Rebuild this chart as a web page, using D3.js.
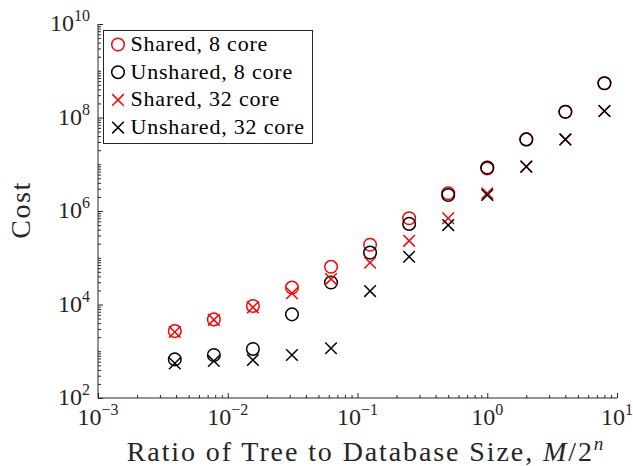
<!DOCTYPE html>
<html>
<head>
<meta charset="utf-8">
<script src="https://cdn.jsdelivr.net/npm/d3@7"></script>
<style>
  html, body { margin: 0; padding: 0; background: #fff; }
  svg { display: block; }
  text { font-family: "Liberation Serif", "Times New Roman", serif; }
</style>
</head>
<body>
<svg id="chart" width="633" height="466"></svg>
<script>
// Tree size as a fraction of the database size, M / 2^n
const ratio = [0.00390625, 0.0078125, 0.015625, 0.03125, 0.0625, 0.125, 0.25, 0.5, 1, 2, 4, 8];

// Cost for each configuration
const shared8    = [2700, 4800, 9300, 23000, 64000, 190000, 700000, 2.4e6, 8.1e6, 3.4e7, 1.33e8, 5.4e8];
const unshared8  = [670, 830, 1120, 6150, 29600, 129000, 530000, 2.2e6, 8.5e6, 3.4e7, 1.33e8, 5.4e8];
const shared32   = [2580, 4700, 8700, 17400, 35000, 78000, 230000, 700000, 2.4e6, 8.9e6, 3.4e7, 1.38e8];
const unshared32 = [550, 620, 650, 830, 1160, 19400, 105000, 500000, 2.2e6, 8.9e6, 3.4e7, 1.38e8];

const seriesNames   = ["Shared, 8 core", "Unshared, 8 core", "Shared, 32 core", "Unshared, 32 core"];
const seriesValues  = [shared8, unshared8, shared32, unshared32];
const seriesColors  = ["#ff0000", "#000000", "#ff0000", "#000000"];
const seriesMarkers = ["circle", "circle", "cross", "cross"];

// Axis tick decades
const xTickExps = [-3, -2, -1, 0, 1];
const yTickExps = [2, 4, 6, 8, 10];

const svg = d3.select("#chart");
const plotLeft = 98, plotRight = 617, plotTop = 24, plotBottom = 398;

const x = d3.scaleLog().domain([1e-3, 1e1]).range([plotLeft, plotRight]);
const y = d3.scaleLog().domain([1e2, 1e10]).range([plotBottom, plotTop]);

const axisColor = "#262626";

// Tick positions at every 1..9 x 10^k
function minorValues(lo, hi) {
  const out = [];
  for (let e = lo; e < hi; e++) {
    for (let m = 1; m <= 9; m++) out.push(m * Math.pow(10, e));
  }
  out.push(Math.pow(10, hi));
  return out;
}

const xAxis = d3.axisTop(x)
  .tickValues(minorValues(-3, 1))
  .tickSize(0).tickFormat("");
const yAxis = d3.axisRight(y)
  .tickValues(minorValues(2, 10))
  .tickSize(0).tickFormat("");

const gx = svg.append("g").attr("transform", `translate(0,${plotBottom})`).call(xAxis);
const gy = svg.append("g").attr("transform", `translate(${plotLeft},0)`).call(yAxis);
[gx, gy].forEach(g => g.select(".domain").remove());

const isMajorX = v => xTickExps.some(e => Math.abs(Math.log10(v) - e) < 1e-9);
const isMajorY = v => yTickExps.some(e => Math.abs(Math.log10(v) - e) < 1e-9);

// Ticks point into the plot area; labelled decades get longer ticks
gx.selectAll(".tick line")
  .attr("stroke", axisColor).attr("stroke-width", 1)
  .attr("y2", d => isMajorX(d) ? -5 : -3);
gy.selectAll(".tick line")
  .attr("stroke", axisColor).attr("stroke-width", 1)
  .attr("x2", d => isMajorY(d) ? 5 : 3);

// Axis lines (left and bottom only)
svg.append("line")
  .attr("x1", plotLeft).attr("x2", plotRight).attr("y1", plotBottom).attr("y2", plotBottom)
  .attr("stroke", axisColor).attr("stroke-width", 1);
svg.append("line")
  .attr("x1", plotLeft).attr("x2", plotLeft).attr("y1", plotTop).attr("y2", plotBottom)
  .attr("stroke", axisColor).attr("stroke-width", 1);

// Tick labels as 10 with a superscript exponent
function powerLabel(sel, exp) {
  sel.append("tspan").text("10");
  sel.append("tspan")
    .attr("dy", -10).attr("font-size", 16)
    .text(exp < 0 ? "\u2212" + Math.abs(exp) : String(exp));
}

xTickExps.forEach(e => {
  const t = svg.append("text")
    .attr("x", x(Math.pow(10, e))).attr("y", plotBottom + 27)
    .attr("text-anchor", "middle")
    .attr("font-size", 24).attr("fill", axisColor);
  powerLabel(t, e);
});

yTickExps.forEach(e => {
  const t = svg.append("text")
    .attr("x", plotLeft - 8).attr("y", y(Math.pow(10, e)) + 7)
    .attr("text-anchor", "end")
    .attr("font-size", 24).attr("fill", axisColor);
  powerLabel(t, e);
});

// Axis titles
const xt = svg.append("text")
  .attr("x", 366).attr("y", 461)
  .attr("text-anchor", "middle")
  .attr("font-size", 28).attr("fill", axisColor)
  .attr("letter-spacing", 1.9);
xt.append("tspan").text("Ratio of Tree to Database Size, ");
xt.append("tspan").attr("font-style", "italic").text("M");
xt.append("tspan").text("/2");
xt.append("tspan").attr("font-style", "italic").attr("font-size", 19).attr("dy", -11).text("n");

svg.append("text")
  .attr("transform", `translate(30,210) rotate(-90)`)
  .attr("text-anchor", "middle")
  .attr("font-size", 28).attr("fill", axisColor)
  .attr("letter-spacing", 1.5)
  .text("Cost");

// Marker drawing
const crossPath = r => `M${-r},${-r}L${r},${r}M${-r},${r}L${r},${-r}`;
function drawMarker(g, kind, color) {
  if (kind === "circle") {
    g.append("circle").attr("r", 6.3)
      .attr("fill", "none").attr("stroke", color).attr("stroke-width", 1.5);
  } else {
    g.append("path").attr("d", crossPath(5.8))
      .attr("fill", "none").attr("stroke", color).attr("stroke-width", 1.5);
  }
}

seriesValues.forEach((vals, i) => {
  const g = svg.append("g");
  vals.forEach((v, j) => {
    const m = g.append("g").attr("transform", `translate(${x(ratio[j])},${y(v)})`);
    drawMarker(m, seriesMarkers[i], seriesColors[i]);
  });
});

// Legend
const lg = svg.append("g");
lg.append("rect")
  .attr("x", 103.5).attr("y", 30.5).attr("width", 209).attr("height", 113)
  .attr("fill", "#fff").attr("stroke", axisColor).attr("stroke-width", 1);
seriesNames.forEach((name, i) => {
  const cy = 44.5 + i * 27.7;
  const m = lg.append("g").attr("transform", `translate(118,${cy})`);
  drawMarker(m, seriesMarkers[i], seriesColors[i]);
  lg.append("text")
    .attr("x", 130.5).attr("y", cy + 6.5)
    .attr("font-size", 22).attr("fill", "#000")
    .attr("letter-spacing", 0.8)
    .text(name);
});
</script>
</body>
</html>
